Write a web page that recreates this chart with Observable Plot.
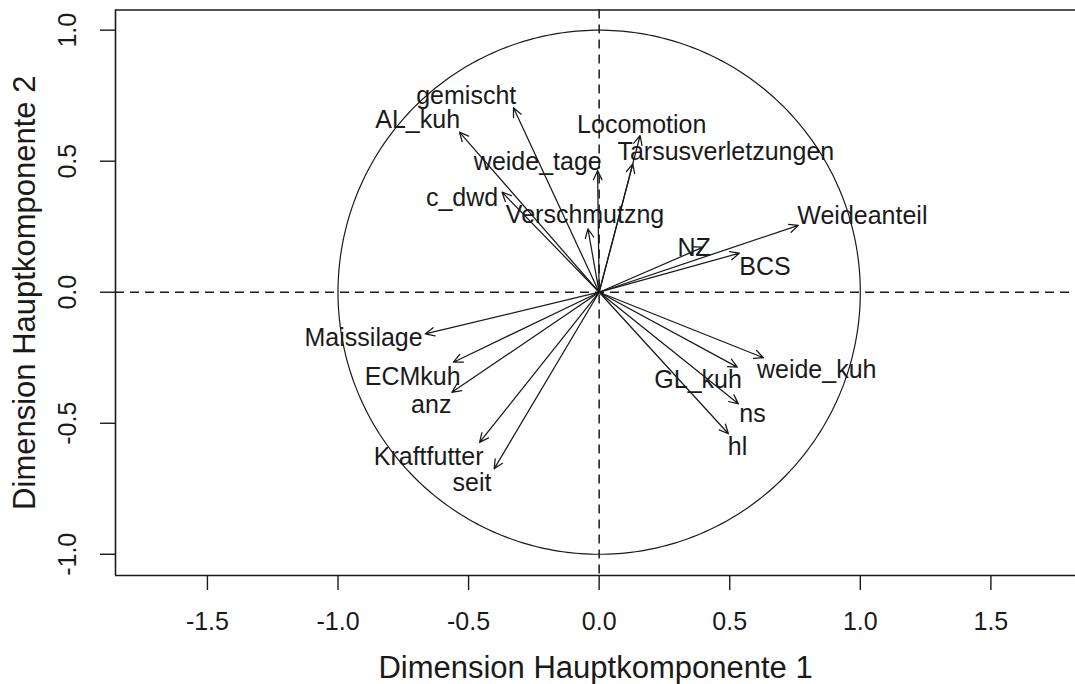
<!DOCTYPE html>
<html>
<head>
<meta charset="utf-8">
<script src="https://cdn.jsdelivr.net/npm/d3@7"></script>
<script src="https://cdn.jsdelivr.net/npm/@observablehq/plot@0.6"></script>
<style>
  html, body { margin: 0; padding: 0; background: #fff; }
  #chart svg { display: block; }
</style>
</head>
<body>
<div id="chart"></div>
<script>
// Variables of the PCA correlation circle
const variables = ["gemischt", "AL_kuh", "weide_tage", "c_dwd", "Verschmutzng", "Locomotion", "Tarsusverletzungen",
  "Weideanteil", "NZ", "BCS", "weide_kuh", "GL_kuh", "ns", "hl",
  "Maissilage", "ECMkuh", "anz", "Kraftfutter", "seit"];
// Loadings (arrow tips) on Hauptkomponente 1 and 2
const pc1 = [-0.328, -0.535, -0.006, -0.372, -0.043, 0.157, 0.129,
  0.763, 0.398, 0.537, 0.629, 0.529, 0.533, 0.495,
  -0.666, -0.558, -0.564, -0.458, -0.402];
const pc2 = [0.704, 0.611, 0.464, 0.382, 0.242, 0.598, 0.490,
  0.255, 0.172, 0.149, -0.250, -0.286, -0.426, -0.540,
  -0.159, -0.267, -0.382, -0.573, -0.674];
// Label positions (data units)
const labelPc1 = [-0.509, -0.695, -0.235, -0.525, -0.054, 0.163, 0.485,
  1.008, 0.364, 0.635, 0.833, 0.379, 0.587, 0.530,
  -0.902, -0.714, -0.643, -0.653, -0.487];
const labelPc2 = [0.747, 0.659, 0.498, 0.359, 0.295, 0.638, 0.537,
  0.289, 0.168, 0.098, -0.297, -0.335, -0.466, -0.589,
  -0.176, -0.322, -0.431, -0.627, -0.729];

const xTicks = [-1.5, -1.0, -0.5, 0.0, 0.5, 1.0, 1.5];
const yTicks = [-1.0, -0.5, 0.0, 0.5, 1.0];
const xTitle = "Dimension Hauptkomponente 1";
const yTitle = "Dimension Hauptkomponente 2";

const rows = variables.map((v, i) => ({name: v, pc1: pc1[i], pc2: pc2[i], lx: labelPc1[i], ly: labelPc2[i]}));
// unit correlation circle (reference geometry)
const circle = d3.range(0, 361).map(a => ({x: Math.cos(a * Math.PI / 180), y: Math.sin(a * Math.PI / 180)}));

const xDomain = [-1.852, 1.824];
const yDomain = [-1.081, 1.077];
const ink = "#1a1a1a";
const fmt = d => d.toFixed(1);

const chart = Plot.plot({
  width: 1075,
  height: 684,
  marginLeft: 115,
  marginRight: 0,
  marginTop: 9.5,
  marginBottom: 109,
  style: {fontFamily: "'Liberation Sans', Arial, sans-serif", background: "#fff", color: ink},
  x: {domain: xDomain, label: null},
  y: {domain: yDomain, label: null},
  marks: [
    // dashed axes through origin
    Plot.ruleY([0], {stroke: ink, strokeWidth: 1.5, strokeDasharray: "9,6"}),
    Plot.ruleX([0], {stroke: ink, strokeWidth: 1.5, strokeDasharray: "9,6"}),
    // circle
    Plot.line(circle, {x: "x", y: "y", stroke: ink, strokeWidth: 1.2}),
    // arrows
    Plot.arrow(rows, {x1: () => 0, y1: () => 0, x2: "pc1", y2: "pc2", stroke: ink, strokeWidth: 1.25, headLength: 12, headAngle: 50}),
    // labels
    Plot.text(rows, {x: "lx", y: "ly", text: "name", fontSize: 25, fill: ink, textAnchor: "middle", lineAnchor: "middle"}),
    // box (left, top, bottom; right side cropped)
    Plot.ruleY([yDomain[0], yDomain[1]], {stroke: ink, strokeWidth: 1.6}),
    Plot.ruleX([xDomain[0]], {stroke: ink, strokeWidth: 1.6}),
    // axes
    Plot.axisX({ticks: xTicks, tickSize: 15, tickPadding: 22, tickFormat: fmt, fontSize: 25, stroke: ink, strokeWidth: 1.4, fill: ink, label: null}),
    Plot.axisY({ticks: yTicks, tickSize: 15, tickFormat: () => "", stroke: ink, strokeWidth: 1.4, label: null}),
    Plot.text(yTicks, {y: d => d, frameAnchor: "left", text: fmt, rotate: -90, dx: -40, fontSize: 25, fill: ink, textAnchor: "middle", lineAnchor: "bottom"}),
    // titles
    Plot.text([xTitle], {frameAnchor: "bottom", text: d => d, dy: 102, fontSize: 31, fill: ink, textAnchor: "middle", lineAnchor: "bottom"}),
    Plot.text([yTitle], {frameAnchor: "left", text: d => d, dx: -81, rotate: -90, fontSize: 31, fill: ink, textAnchor: "middle", lineAnchor: "bottom"})
  ]
});
document.getElementById("chart").appendChild(chart);
</script>
</body>
</html>
